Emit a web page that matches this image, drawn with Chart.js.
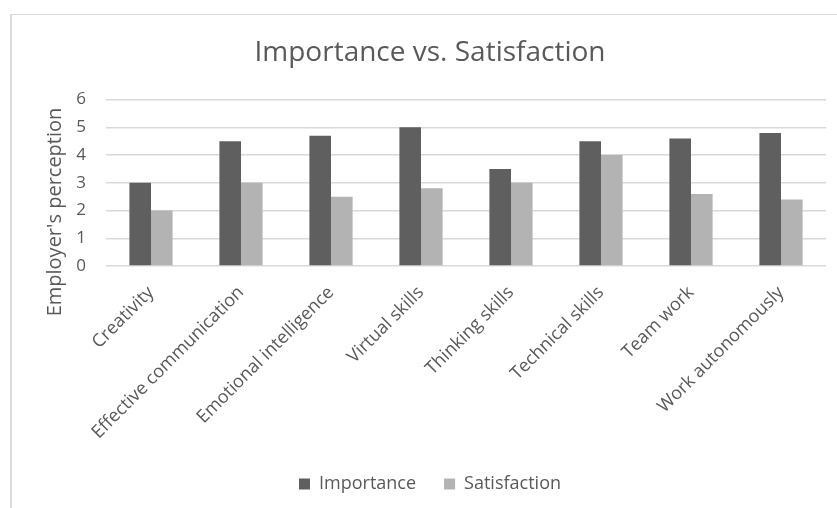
<!DOCTYPE html>
<html>
<head>
<meta charset="utf-8">
<script src="https://cdn.jsdelivr.net/npm/chart.js@4/dist/chart.umd.min.js"></script>
<style>
  html, body { margin: 0; padding: 0; background: #ffffff; overflow: hidden; }
  #wrap { position: relative; width: 837px; height: 508px; }
  #frame {
    position: absolute; left: 10px; top: 14px; width: 900px; height: 600px;
    border-left: 2px solid #d9d9d9; border-top: 1px solid #d9d9d9;
    box-sizing: border-box; pointer-events: none;
  }
  canvas { position: absolute; left: 0; top: 0; }
</style>
</head>
<body>
<div id="wrap">
  <div id="frame"></div>
  <canvas id="chart" width="837" height="508"></canvas>
</div>
<script>
// Skills rated by employers
const categories = [
  'Creativity', 'Effective communication', 'Emotional intelligence', 'Virtual skills',
  'Thinking skills', 'Technical skills', 'Team work', 'Work autonomously'
];
const importance   = [3.0, 4.5, 4.7, 5.0, 3.5, 4.5, 4.6, 4.8];
const satisfaction = [2.0, 3.0, 2.5, 2.8, 3.0, 4.0, 2.6, 2.4];
const yTicks = [0, 1, 2, 3, 4, 5, 6];
const chartTitle = 'Importance vs. Satisfaction';
const yAxisTitle = "Employer's perception";

const FONT = "'Open Sans', 'DejaVu Sans', sans-serif";
const TEXT = '#595959';

// Vertical axis title, centred on the plot plus its category labels
const yTitlePlugin = {
  id: 'yTitle',
  afterDraw(chart) {
    const { ctx, chartArea } = chart;
    ctx.save();
    ctx.translate(chartArea.left - 51, chartArea.bottom - 54);
    ctx.rotate(-Math.PI / 2);
    ctx.font = '20px ' + FONT;
    ctx.fillStyle = TEXT;
    ctx.textAlign = 'center';
    ctx.textBaseline = 'middle';
    ctx.fillText(yAxisTitle, 0, 0);
    ctx.restore();
  }
};

new Chart(document.getElementById('chart'), {
  type: 'bar',
  data: {
    labels: categories,
    datasets: [
      { label: 'Importance', data: importance, backgroundColor: '#5f5f5f', borderWidth: 0,
        categoryPercentage: 0.48, barPercentage: 1.0 },
      { label: 'Satisfaction', data: satisfaction, backgroundColor: '#b3b3b3', borderWidth: 0,
        categoryPercentage: 0.48, barPercentage: 1.0 }
    ]
  },
  options: {
    responsive: false,
    animation: false,
    devicePixelRatio: 1,
    layout: { padding: { left: 34, right: 11, top: 0, bottom: 5 } },
    plugins: {
      title: {
        display: true,
        text: chartTitle,
        color: TEXT,
        font: { family: FONT, size: 28, weight: 'normal' },
        padding: { top: 36, bottom: 30 }
      },
      legend: {
        position: 'bottom',
        labels: {
          color: TEXT,
          font: { family: FONT, size: 18 },
          boxWidth: 11,
          boxHeight: 11,
          padding: 28
        }
      },
      tooltip: { enabled: false }
    },
    scales: {
      x: {
        grid: { display: false, drawTicks: false },
        border: { display: false },
        ticks: {
          color: TEXT,
          font: { family: FONT, size: 18 },
          minRotation: 45,
          maxRotation: 45,
          autoSkip: false,
          padding: 16
        },
        afterFit(scale) { scale.height = 181; }
      },
      y: {
        min: 0,
        max: 6,
        afterBuildTicks(scale) { scale.ticks = yTicks.map(v => ({ value: v })); },
        grid: { color: '#d9d9d9', lineWidth: 1.5, drawTicks: false },
        border: { display: false },
        ticks: {
          color: TEXT,
          font: { family: FONT, size: 17 },
          padding: 20
        },
        afterFit(scale) { scale.width = 72; }
      }
    }
  },
  plugins: [yTitlePlugin]
});
</script>
</body>
</html>
